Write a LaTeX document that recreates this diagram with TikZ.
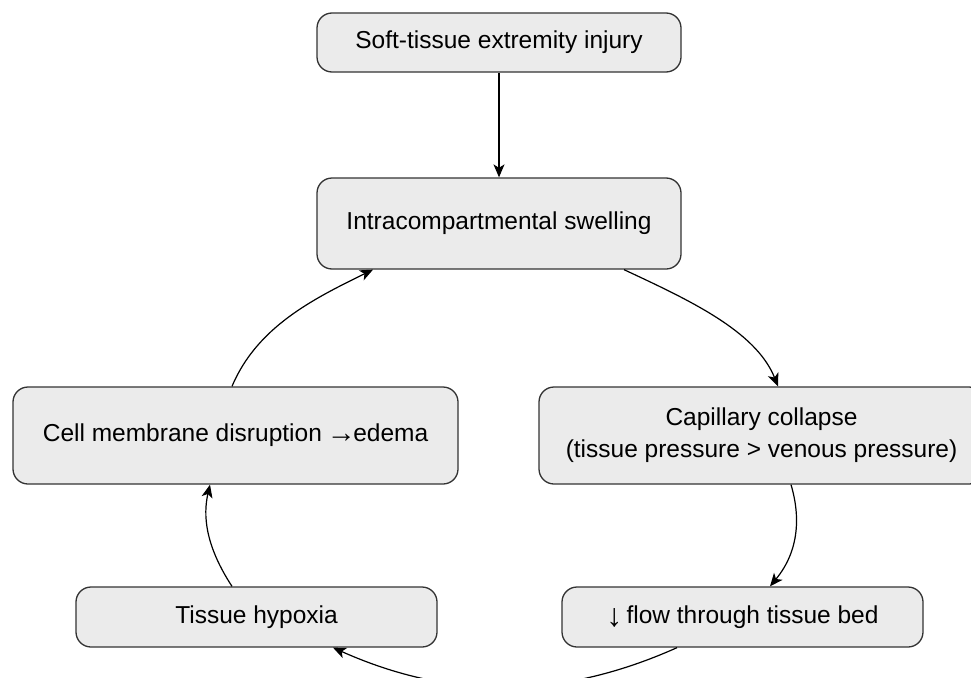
\documentclass[tikz,border=0pt]{standalone}
\usepackage{fontspec}
\setmainfont{Liberation Sans}
\usetikzlibrary{arrows.meta}
\definecolor{boxfill}{HTML}{EBEBEB}
\definecolor{boxline}{HTML}{333333}
\tikzset{
  flowbox/.style={draw=boxline, fill=boxfill, line width=1.3pt, rounded corners=15pt,
    inner sep=0pt, align=center, font=\fontsize{24.5}{32}\selectfont},
  conn/.style={draw=black, line width=1.2pt, -{Stealth[length=13pt,width=11pt,inset=3.5pt]}}
}
\begin{document}
\begin{tikzpicture}[x=1pt,y=-1pt]
\useasboundingbox (0,0) rectangle (971,677);
\clip (0,0) rectangle (971,677);
\node[flowbox, minimum width=364pt, minimum height=59pt] (A) at (499,42.5) {Soft-tissue extremity injury};
\node[flowbox, minimum width=364pt, minimum height=91pt] (B) at (499,223.5) {Intracompartmental swelling};
\node[flowbox, minimum width=445pt, minimum height=97pt] (C) at (235.5,435.5) {Cell membrane disruption \kern-2pt\raisebox{-0.5pt}{\fontsize{29}{29}\selectfont→}\kern-2.5pt edema};
\node[flowbox, minimum width=445pt, minimum height=97pt] (D) at (761.5,435.5) {Capillary collapse\\(tissue pressure > venous pressure)};
\node[flowbox, minimum width=361pt, minimum height=60pt] (E) at (256.5,617) {Tissue hypoxia};
\node[flowbox, minimum width=361pt, minimum height=60pt] (F) at (742.5,617) {\raisebox{-3pt}{\fontsize{32}{32}\selectfont↓}\,flow through tissue bed};

\draw[conn] (A.south) -- (B.north);
\draw[conn] ([xshift=125pt]B.south) .. controls (689,300) and (756,331) .. ([xshift=16.5pt]D.north);
\draw[conn] ([xshift=29.5pt]D.south) .. controls (800,515) and (800,550) .. ([xshift=27.5pt]F.north);
\draw[conn] ([xshift=-65.5pt]F.south) .. controls (560,700) and (450,700) .. ([xshift=76.5pt]E.south);
\draw[conn] ([xshift=-24.5pt]E.north) .. controls (205,545) and (203,515) .. ([xshift=-25.5pt]C.south);
\draw[conn] ([xshift=-3.5pt]C.north) .. controls (257,327) and (313,299) .. ([xshift=-126pt]B.south);
\end{tikzpicture}
\end{document}
